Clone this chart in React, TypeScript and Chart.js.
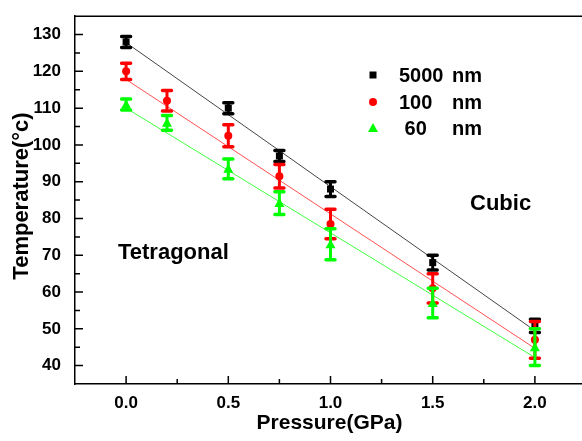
import { useEffect, useRef } from 'react';
import { Chart, registerables } from 'chart.js';

Chart.register(...registerables);

// ---- data ----
const p5000 = [0, 0.5, 0.75, 1.0, 1.5, 2.0];
const t5000 = [128, 110, 97, 88, 68, 50.8];
const e5000 = [1.5, 1.5, 1.5, 2, 2, 1.8];

const p100 = [0, 0.2, 0.5, 0.75, 1.0, 1.5, 2.0];
const t100 = [120, 112, 102.5, 91.5, 78.5, 61, 47];
const e100 = [2.2, 2.8, 3, 3.2, 4, 4, 5];

const p60 = [0, 0.2, 0.5, 0.75, 1.0, 1.5, 2.0];
const t60 = [111, 106, 93.5, 84.2, 73, 57, 45];
const e60 = [1.5, 2, 2.7, 3.1, 4.2, 4, 5];

const fitP = [0, 2.0];
const fit5000 = [127.8, 49.5];
const fit100 = [117.8, 44.7];
const fit60 = [110, 42.2];

const xTicks = [0, 0.5, 1.0, 1.5, 2.0];
const xMinor = [0.25, 0.75, 1.25, 1.75];
const yTicks = [40, 50, 60, 70, 80, 90, 100, 110, 120, 130];
const yMinor = [45, 55, 65, 75, 85, 95, 105, 115, 125];

const seriesLabels = ['5000 nm', '100   nm', ' 60   nm'];
const seriesColors = ['#000000', '#ff0000', '#00ff00'];
const fitColors = ['#444444', '#ff5050', '#40ff40'];
const seriesStyles = ['rect', 'circle', 'triangle'];

const FONT = '"Liberation Sans", Arial, Helvetica, sans-serif';

const errors = [e5000, e100, e60];

const toPts = (xs: number[], ys: number[]) => xs.map((x, i) => ({ x, y: ys[i] }));

function drawMarker(ctx: CanvasRenderingContext2D, style: string, x: number, y: number, color: string) {
  ctx.save();
  ctx.fillStyle = color;
  ctx.beginPath();
  if (style === 'rect') {
    ctx.rect(x - 3.5, y - 3.5, 7, 7);
  } else if (style === 'circle') {
    ctx.arc(x, y, 4, 0, Math.PI * 2);
  } else {
    ctx.moveTo(x, y - 5);
    ctx.lineTo(x + 5, y + 4);
    ctx.lineTo(x - 5, y + 4);
    ctx.closePath();
  }
  ctx.fill();
  ctx.restore();
}

const customPlugin = {
  id: 'custom',
  afterDatasetDraw(chart: any, args: any) {
    const ds = chart.data.datasets[args.index];
    if (ds.errIndex === undefined) return;
    const err = errors[ds.errIndex];
    const xs = chart.scales.x;
    const ys = chart.scales.y;
    const ctx = chart.ctx as CanvasRenderingContext2D;
    ctx.save();
    ctx.strokeStyle = ds.backgroundColor;
    ds.data.forEach((pt: any, i: number) => {
      const px = xs.getPixelForValue(pt.x);
      const top = ys.getPixelForValue(pt.y + err[i]);
      const bot = ys.getPixelForValue(pt.y - err[i]);
      ctx.lineWidth = 3;
      ctx.lineCap = 'butt';
      ctx.beginPath();
      ctx.moveTo(px, top);
      ctx.lineTo(px, bot);
      ctx.stroke();
      ctx.lineWidth = 3.5;
      ctx.lineCap = 'round';
      ctx.beginPath();
      ctx.moveTo(px - 4.5, top);
      ctx.lineTo(px + 4.5, top);
      ctx.moveTo(px - 4.5, bot);
      ctx.lineTo(px + 4.5, bot);
      ctx.stroke();
    });
    ctx.restore();
    const meta = args.meta;
    meta.data.forEach((el: any) => {
      drawMarker(ctx, ds.pointStyle, el.x, el.y, ds.backgroundColor);
    });
  },
  afterDraw(chart: any) {
    const ctx = chart.ctx as CanvasRenderingContext2D;
    const xs = chart.scales.x;
    const ys = chart.scales.y;
    const { left, right, top, bottom } = chart.chartArea;
    ctx.save();
    ctx.strokeStyle = '#000';
    ctx.lineWidth = 1.5;
    ctx.beginPath();
    ctx.moveTo(left, top);
    ctx.lineTo(right, top);
    ctx.stroke();
    ctx.beginPath();
    yTicks.forEach((v) => {
      const py = ys.getPixelForValue(v);
      ctx.moveTo(left, py);
      ctx.lineTo(left + 8, py);
    });
    yMinor.forEach((v) => {
      const py = ys.getPixelForValue(v);
      ctx.moveTo(left, py);
      ctx.lineTo(left + 5, py);
    });
    xTicks.forEach((v) => {
      const px = xs.getPixelForValue(v);
      ctx.moveTo(px, bottom);
      ctx.lineTo(px, bottom - 8);
    });
    xMinor.forEach((v) => {
      const px = xs.getPixelForValue(v);
      ctx.moveTo(px, bottom);
      ctx.lineTo(px, bottom - 5);
    });
    ctx.stroke();

    ctx.fillStyle = '#000';
    ctx.font = `bold 21px ${FONT}`;
    ctx.textAlign = 'center';
    ctx.textBaseline = 'middle';
    ctx.fillText('Pressure(GPa)', (left + right) / 2 - 1, 423);
    ctx.save();
    ctx.translate(22, 196);
    ctx.rotate(-Math.PI / 2);
    ctx.font = `bold 22px ${FONT}`;
    ctx.fillText('Temperature(°c)', 0, 0);
    ctx.restore();

    ctx.font = `bold 22px ${FONT}`;
    ctx.textAlign = 'left';
    ctx.textBaseline = 'alphabetic';
    ctx.fillText('Tetragonal', 118, 259);
    ctx.fillText('Cubic', 470, 210);

    const rowsY = [75, 102, 128];
    ctx.font = `bold 20px ${FONT}`;
    ctx.textBaseline = 'middle';
    seriesLabels.forEach((lab, i) => {
      drawMarker(ctx, seriesStyles[i], 373, rowsY[i], seriesColors[i]);
      const idx = lab.lastIndexOf('nm');
      const num = lab.slice(0, idx).replace(/\s+$/, '');
      ctx.fillStyle = '#000';
      ctx.fillText(num, 399, rowsY[i] + 1);
      ctx.fillText('nm', 452, rowsY[i] + 1);
    });
    ctx.restore();
  },
};

export default function App() {
  const ref = useRef<HTMLCanvasElement | null>(null);
  useEffect(() => {
    if (!ref.current) return;
    const fits = [fit5000, fit100, fit60];
    const fitDatasets = fits.map((f, i) => ({
      type: 'line' as const,
      label: 'fit ' + seriesLabels[i],
      data: toPts(fitP, f),
      borderColor: fitColors[i],
      borderWidth: 1,
      pointRadius: 0,
      fill: false,
      order: 10,
    }));
    const pts = [toPts(p5000, t5000), toPts(p100, t100), toPts(p60, t60)];
    const scatterDatasets = pts.map((d, i) => ({
      type: 'scatter' as const,
      label: seriesLabels[i],
      data: d,
      backgroundColor: seriesColors[i],
      borderColor: seriesColors[i],
      pointStyle: seriesStyles[i],
      pointRadius: 0,
      errIndex: i,
      order: 3 - i,
    }));
    const chart = new Chart(ref.current, {
      type: 'scatter',
      data: { datasets: [...fitDatasets, ...scatterDatasets] as any },
      options: {
        responsive: false,
        animation: false,
        devicePixelRatio: 1,
        layout: { padding: { top: 10, right: 14, left: 0, bottom: 0 } },
        plugins: { legend: { display: false }, tooltip: { enabled: false } },
        scales: {
          x: {
            type: 'linear',
            min: -0.25,
            max: 2.25,
            afterBuildTicks: (s: any) => {
              s.ticks = xTicks.map((v) => ({ value: v }));
            },
            afterFit: (s: any) => {
              s.height = 57;
            },
            grid: { display: false },
            border: { display: true, color: '#000', width: 1.5 },
            ticks: {
              color: '#000',
              padding: 1,
              font: { family: FONT, size: 17, weight: 'bold' },
              callback: (v: any) => Number(v).toFixed(1),
              maxRotation: 0,
            },
          },
          y: {
            type: 'linear',
            min: 35,
            max: 135,
            afterBuildTicks: (s: any) => {
              s.ticks = yTicks.map((v) => ({ value: v }));
            },
            afterFit: (s: any) => {
              s.width = 75;
            },
            grid: { display: false },
            border: { display: true, color: '#000', width: 1.5 },
            ticks: {
              color: '#000',
              padding: 6,
              font: { family: FONT, size: 17, weight: 'bold' },
              callback: (v: any) => String(v),
            },
          },
        },
      },
      plugins: [customPlugin],
    });
    return () => chart.destroy();
  }, []);
  return (
    <div style={{ position: 'fixed', left: 0, top: 0, width: 582, height: 441, overflow: 'hidden', background: '#fff' }}>
      <canvas ref={ref} width={600} height={441} style={{ display: 'block', width: 600, height: 441 }} />
    </div>
  );
}
